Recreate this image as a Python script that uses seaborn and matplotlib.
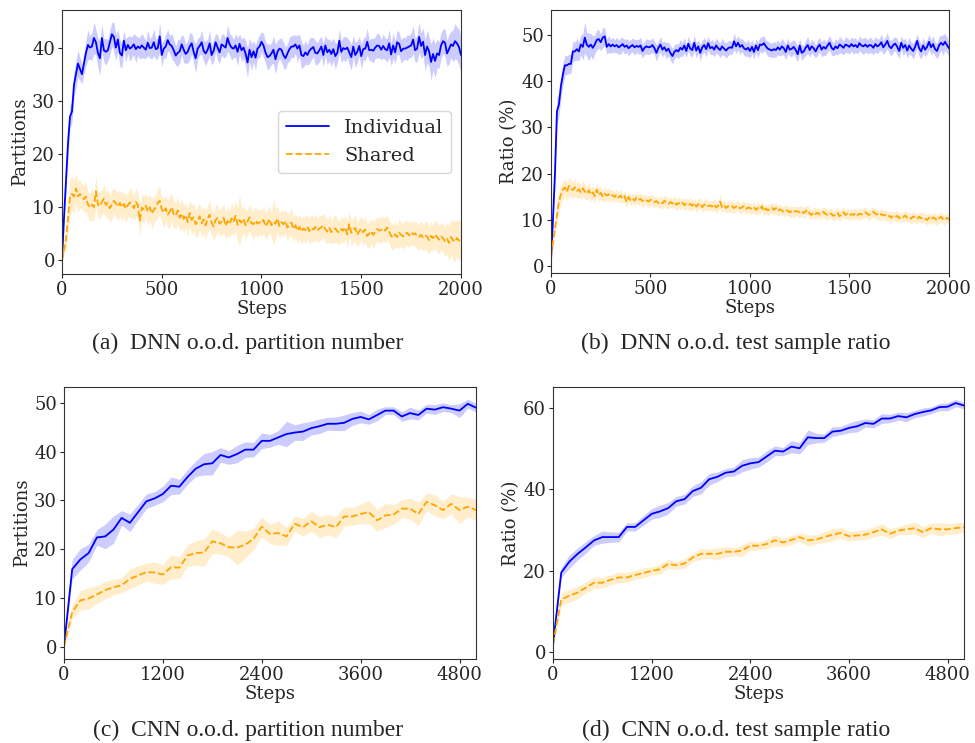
import numpy as np
import matplotlib
matplotlib.use('Agg')
import matplotlib.pyplot as plt
import seaborn as sns

# ---- DNN runs: one value every 10 steps, 0..2000 ----
dnn_steps = list(range(0, 2001, 10))

dnn_part_ind = [
    0, 8, 15, 22, 27, 28, 33, 35, 37, 36, 35,
    37, 39, 40.5, 40, 40.2, 41.8, 41, 39, 38, 41.8, 39.5, 39.2, 39.5, 41, 42.5, 42, 40, 41.5, 39, 38.5,
    41.3, 39.5, 40.5, 39.8, 40.1, 40.6, 39.7, 40.2, 39.9, 40.4,
    40.0, 39.6, 40.9, 39.9, 40.0, 41.0, 39.7, 39.9, 42.1, 38.6,
    39.8, 40.2, 41.4, 40.6, 40.3, 39.5, 38.5, 39.0, 39.3, 40.6,
    39.6, 38.8, 39.2, 40.2, 40.8, 39.2, 38.0, 39.8, 40.3, 41.0,
    39.4, 38.9, 39.6, 40.8, 38.6, 39.4, 41.0, 40.0, 39.1, 40.6,
    40.3, 40.0, 41.8, 40.6, 40.0, 39.8, 40.4, 39.2, 40.7, 39.5,
    40.0, 38.9, 37.2, 39.6, 38.2, 39.3, 38.1, 39.8, 40.2, 41.1,
    40.4, 39.1, 38.2, 38.4, 38.9, 39.6, 37.8, 39.2, 39.8, 39.6,
    38.6, 38.0, 38.9, 39.7, 40.2, 40.2, 40.6, 39.8, 40.4, 38.6,
    38.4, 39.1, 38.6, 39.4, 39.8, 40.1, 39.0, 38.9, 39.5, 40.2,
    38.6, 40.4, 39.1, 39.6, 38.8, 39.7, 38.4, 39.0, 41.3, 39.2,
    39.9, 39.7, 40.0, 39.1, 38.2, 40.2, 38.6, 39.2, 40.3, 38.4,
    39.7, 39.8, 41.1, 39.5, 39.6, 39.4, 40.0, 40.4, 40.3, 39.6,
    40.3, 39.7, 39.5, 40.8, 38.7, 40.4, 39.1, 41.0, 40.7, 39.3,
    39.8, 39.8, 40.0, 40.2, 40.4, 41.5, 39.5, 39.8, 42.0, 40.3,
    41.1, 38.6, 40.2, 39.3, 37.3, 38.8, 37.5, 38.9, 38.6, 40.4,
    41.2, 40.9, 38.9, 39.7, 40.6, 40.3, 41.2, 40.8, 40.1, 38.6,
]
dnn_part_ind_sd = [
    0, 1.0, 2.0, 2.5, 2.2, 2.0, 2.4, 2.6, 2.5, 2.2, 1.8,
    2.0, 2.4, 2.8, 2.2, 2.6, 3.0, 2.4, 2.8, 3.2, 2.6, 2.2, 2.5, 2.0, 2.4, 2.2, 2.8, 2.4, 2.0, 2.6, 2.3,
    1.8, 2.2, 1.6, 2.4, 1.9, 2.0, 2.6, 1.7, 2.1, 2.3,
    2.0, 1.6, 2.4, 1.8, 2.2, 2.5, 1.9, 2.0, 2.6, 2.2,
    1.7, 2.3, 2.0, 1.6, 2.4, 2.1, 1.8, 2.5, 2.2, 1.9,
    2.4, 1.8, 2.1, 2.6, 1.9, 2.2, 2.7, 2.0, 1.7, 2.3,
    1.9, 2.3, 2.0, 2.5, 1.8, 2.2, 1.6, 2.4, 2.1, 2.0,
    2.2, 1.8, 2.5, 2.0, 2.3, 1.7, 2.2, 2.6, 1.9, 2.1,
    2.0, 2.4, 2.8, 2.2, 2.5, 2.0, 2.3, 1.8, 2.2, 1.9,
    2.3, 2.0, 2.5, 2.2, 2.0, 2.6, 2.8, 2.1, 1.9, 2.2,
    2.4, 2.1, 1.8, 2.3, 2.0, 2.2, 1.7, 2.5, 2.1, 2.6,
    2.0, 2.2, 1.9, 2.4, 2.1, 1.8, 2.3, 2.0, 2.2, 1.9,
    2.2, 1.9, 2.4, 2.0, 2.3, 2.1, 2.5, 1.8, 2.2, 2.0,
    2.1, 2.4, 1.9, 2.2, 2.5, 2.0, 2.3, 2.1, 1.8, 2.4,
    2.0, 2.2, 2.5, 1.9, 2.1, 2.3, 2.0, 2.4, 2.2, 1.9,
    2.3, 2.0, 2.2, 2.6, 2.1, 2.4, 2.0, 2.3, 2.1, 2.2,
    2.2, 2.0, 2.4, 2.1, 2.3, 2.6, 2.2, 2.5, 2.8, 2.4,
    2.6, 2.9, 3.1, 2.8, 3.4, 3.0, 3.2, 2.7, 2.5, 2.4,
    2.3, 2.6, 2.4, 2.8, 2.5, 3.0, 3.3, 3.1, 3.4, 3.2,
]
dnn_part_sh = [
    0, 2, 4, 8, 12, 12.5, 12, 13.5, 12, 12.5, 12,
    11.5, 12, 10.5, 10, 10.5, 10, 13, 10.5, 10.2, 11, 11.6, 10.4, 10.8, 9.8, 10.5, 11.2, 10.7, 10.1, 10.8, 10.0,
    10.6, 9.7, 10.4, 10.9, 10.5, 9.8, 11.0, 10.4, 7.5, 9.9,
    9.6, 10.3, 9.2, 10.0, 8.8, 9.5, 9.9, 10.8, 11.2, 9.6,
    9.0, 9.8, 8.6, 9.2, 10.0, 8.7, 8.4, 9.4, 8.0, 8.8,
    7.8, 8.5, 7.2, 8.9, 7.6, 8.1, 6.8, 7.4, 8.3, 7.0,
    7.7, 6.6, 7.9, 8.6, 7.1, 6.4, 7.6, 8.0, 6.9, 7.3,
    8.0, 6.5, 7.4, 6.8, 7.9, 7.2, 8.4, 6.7, 7.6, 7.1,
    7.8, 6.6, 7.3, 8.1, 7.0, 6.8, 7.5, 6.9, 7.2, 7.0,
    7.6, 6.4, 7.0, 7.8, 6.6, 7.3, 6.9, 7.9, 6.5, 7.2,
    6.8, 7.4, 6.2, 6.9, 7.1, 5.9, 6.6, 5.6, 6.3, 5.4,
    6.0, 5.7, 6.4, 5.5, 6.1, 5.8, 6.3, 5.6, 6.0, 6.2,
    6.6, 5.9, 5.4, 6.1, 5.3, 5.8, 6.0, 5.5, 5.2, 5.9,
    5.6, 6.2, 4.9, 6.8, 5.2, 5.7, 6.1, 4.8, 5.5, 6.0,
    5.3, 5.8, 4.6, 5.0, 5.5, 4.8, 5.4, 5.9, 5.6, 5.7,
    6.0, 5.6, 6.2, 5.4, 4.6, 4.3, 4.9, 4.4, 5.2, 4.8,
    4.5, 5.0, 5.2, 4.7, 5.3, 4.9, 5.1, 4.6, 4.4, 4.8,
    4.3, 4.7, 4.5, 3.8, 4.6, 4.2, 4.9, 4.4, 3.9, 4.5,
    4.2, 3.6, 4.1, 3.3, 4.4, 3.8, 3.5, 4.2, 3.7, 3.9,
]
dnn_part_sh_sd = [
    0, 1.0, 2.0, 3.0, 3.5, 3.2, 3.0, 2.8, 3.0, 2.6, 2.4,
    2.5, 2.8, 2.4, 2.6, 3.0, 2.5, 2.8, 2.4, 2.6, 2.3, 2.7, 2.4, 2.6, 2.5, 2.8, 2.3, 2.5, 2.7, 2.4, 2.6,
    2.4, 2.6, 2.2, 2.8, 2.5, 2.3, 2.7, 2.4, 3.0, 2.6,
    2.5, 2.2, 2.7, 2.4, 2.9, 2.5, 2.3, 2.8, 2.6, 2.4,
    2.8, 2.4, 2.6, 3.0, 2.5, 2.7, 2.3, 2.6, 2.4, 2.8,
    2.5, 2.3, 2.7, 2.4, 2.9, 2.6, 2.4, 2.8, 2.5, 2.6,
    2.4, 2.8, 2.5, 2.7, 2.3, 2.6, 2.9, 2.5, 2.4, 2.7,
    2.6, 2.4, 2.7, 2.5, 2.9, 2.6, 2.8, 3.0, 4.8, 2.6,
    2.5, 2.7, 2.4, 2.6, 2.3, 2.8, 2.6, 2.6, 2.4, 2.5,
    2.6, 2.4, 2.7, 2.5, 2.3, 4.3, 2.8, 2.4, 2.5, 2.3,
    2.4, 2.2, 2.5, 2.3, 2.6, 2.4, 2.2, 2.5, 2.3, 2.4,
    2.3, 2.5, 2.2, 2.4, 2.6, 2.3, 2.5, 2.2, 2.4, 2.3,
    2.2, 2.4, 2.3, 2.5, 2.2, 2.4, 2.6, 2.3, 2.2, 2.4,
    2.3, 2.2, 2.5, 2.3, 2.4, 2.2, 2.5, 2.3, 2.4, 2.2,
    2.4, 2.3, 2.2, 2.5, 2.3, 2.6, 2.2, 2.4, 2.3, 2.5,
    2.2, 2.4, 2.3, 2.2, 2.5, 2.3, 2.4, 2.2, 2.6, 2.3,
    2.3, 2.5, 2.2, 2.4, 2.3, 2.2, 2.4, 2.5, 2.3, 2.6,
    2.4, 2.6, 2.8, 2.5, 2.7, 2.4, 2.6, 2.9, 2.7, 2.5,
    2.6, 2.8, 3.0, 3.2, 3.4, 3.6, 3.8, 3.5, 3.7, 3.6,
]

dnn_ratio_ind = [
    1, 10, 20, 33.5, 35, 39, 41.5, 43.5, 43.5, 43.8, 43.8,
    46.5, 46.5, 47, 46.5, 48, 47.5, 49.5, 48, 47.5, 48, 47.3, 48, 49, 49.2, 48.5, 49.5, 49.8, 47.5, 48.1, 47.6,
    48.0, 47.6, 47.9, 47.4, 47.7, 48.1, 47.5, 47.8, 47.2, 47.6,
    47.9, 47.4, 47.7, 47.5, 47.8, 46.6, 47.3, 47.6, 47.4, 47.5,
    47.9, 47.2, 46.2, 47.3, 48.0, 46.9, 47.4, 46.6, 47.1, 46.2,
    45.5, 46.4, 46.8, 46.5, 47.3, 46.9, 47.8, 46.6, 48.2, 47.1,
    46.8, 48.4, 46.7, 47.6, 46.2, 47.4, 47.9, 47.0, 48.3, 47.2,
    47.5, 46.9, 47.8, 47.2, 46.8, 47.6, 47.1, 46.7, 47.2, 47.4,
    47.3, 48.7, 47.6, 48.4, 47.5, 47.9, 47.2, 46.9, 47.3, 46.6,
    47.5, 46.4, 47.8, 46.8, 48.0, 47.9, 48.3, 47.6, 47.1, 46.9,
    46.7, 47.0, 46.8, 47.4, 46.9, 47.6, 47.2, 46.4, 47.8, 46.9,
    47.1, 47.5, 46.8, 45.9, 47.8, 46.2, 46.5, 47.3, 47.9, 46.8,
    47.6, 47.2, 46.5, 47.4, 48.0, 46.9, 47.5, 47.1, 47.8, 48.4,
    47.3, 46.9, 47.6, 47.2, 48.0, 47.7, 47.3, 48.0, 47.8, 47.5,
    48.1, 47.6, 47.9, 47.4, 48.3, 47.8, 47.6, 48.0, 47.5, 47.9,
    47.8, 47.3, 48.1, 47.6, 47.9, 48.5, 47.4, 48.0, 48.8, 47.6,
    47.2, 47.9, 48.2, 47.5, 46.6, 48.4, 47.3, 47.9, 46.7, 47.8,
    47.1, 46.6, 47.5, 48.8, 47.2, 46.5, 47.8, 46.9, 47.5, 48.6,
    47.4, 48.1, 47.0, 46.6, 47.8, 48.4, 47.9, 48.6, 47.9, 47.2,
]
dnn_ratio_ind_sd = [
    0, 1.5, 2.5, 3.0, 2.5, 2.5, 2.5, 2.2, 2.0, 2.2, 2.0,
    2.2, 2.0, 2.4, 2.0, 2.2, 2.8, 3.4, 2.6, 3.0, 2.4, 2.6, 2.0, 2.2, 2.0, 1.8, 2.2, 1.8, 1.6, 1.8, 1.5,
    1.6, 1.4, 1.7, 1.5, 1.8, 1.4, 1.6, 1.5, 1.7, 1.4,
    1.5, 1.7, 1.4, 1.6, 1.8, 1.5, 1.4, 1.7, 1.6, 1.5,
    1.6, 1.4, 1.8, 1.5, 1.7, 1.6, 1.4, 1.8, 1.5, 1.6,
    1.7, 1.5, 1.4, 1.6, 1.8, 1.5, 1.7, 1.4, 1.6, 1.5,
    1.5, 1.7, 1.6, 1.4, 1.8, 1.5, 1.6, 1.7, 1.5, 1.4,
    1.6, 1.5, 1.7, 1.4, 1.6, 1.8, 1.5, 1.7, 1.6, 1.5,
    1.4, 1.8, 1.6, 1.5, 1.7, 1.4, 1.6, 1.5, 1.8, 1.6,
    1.5, 1.6, 1.4, 1.7, 1.5, 1.8, 1.6, 1.4, 1.7, 1.5,
    1.6, 1.7, 1.5, 1.6, 1.4, 1.8, 1.5, 1.7, 1.6, 1.4,
    1.7, 1.5, 1.8, 1.6, 1.5, 1.7, 1.4, 1.6, 1.8, 1.5,
    1.5, 1.6, 1.4, 1.7, 1.5, 1.6, 1.8, 1.5, 1.4, 1.6,
    1.6, 1.4, 1.7, 1.5, 1.8, 1.6, 1.5, 1.7, 1.6, 1.5,
    1.5, 1.7, 1.6, 1.4, 1.6, 1.5, 1.8, 1.6, 1.5, 1.7,
    1.6, 1.5, 1.7, 1.6, 1.4, 1.8, 1.5, 1.6, 1.7, 1.5,
    1.7, 1.6, 1.5, 1.8, 1.6, 1.4, 1.7, 1.5, 1.6, 1.8,
    1.5, 1.7, 1.6, 1.5, 1.8, 1.6, 1.7, 1.5, 1.6, 1.7,
    1.6, 1.8, 1.5, 1.7, 1.9, 1.6, 2.2, 1.8, 1.7, 1.6,
]
dnn_ratio_sh = [
    2, 5, 8, 11, 14, 15.5, 16.5, 17.0, 16.0, 17.3, 16.7,
    16.4, 17.0, 16.2, 16.6, 15.9, 16.8, 16.1, 15.6, 16.4, 15.4, 15.9, 15.1, 16.5, 15.3, 15.8, 15.0, 15.6, 15.2, 15.5, 15.0,
    15.3, 14.9, 15.4, 14.8, 15.2, 14.6, 15.1, 13.8, 14.9, 14.2,
    14.6, 14.1, 14.8, 14.3, 14.5, 14.0, 14.4, 14.2, 13.9, 14.3,
    14.1, 13.8, 14.0, 13.6, 13.9, 13.5, 14.1, 13.7, 13.4, 13.8,
    13.5, 13.9, 13.2, 13.6, 13.3, 13.7, 13.1, 13.5, 13.2, 13.4,
    13.0, 13.6, 12.8, 13.3, 13.5, 12.7, 13.2, 13.4, 12.9, 13.1,
    12.8, 13.3, 12.6, 13.0, 13.9, 12.7, 13.1, 12.5, 12.9, 12.7,
    12.9, 12.5, 12.8, 13.0, 12.4, 12.7, 12.9, 12.3, 12.6, 12.5,
    12.3, 12.7, 12.1, 12.5, 12.2, 12.9, 11.8, 12.4, 12.0, 12.3,
    12.6, 12.1, 12.5, 11.9, 12.2, 12.0, 11.7, 12.1, 11.9, 11.6,
    11.8, 11.5, 11.9, 11.7, 11.6, 11.9, 11.4, 11.8, 12.1, 11.3,
    11.0, 11.6, 11.2, 11.5, 11.1, 11.4, 11.7, 11.2, 11.0, 11.4,
    11.2, 10.8, 11.1, 11.5, 10.7, 11.3, 11.6, 11.0, 11.3, 10.9,
    11.2, 11.0, 11.4, 10.9, 11.3, 11.1, 11.5, 11.6, 11.2, 11.0,
    11.4, 11.7, 11.3, 11.1, 10.8, 11.2, 10.9, 11.0, 10.6, 10.8,
    10.4, 10.9, 10.6, 10.8, 10.3, 10.7, 10.5, 10.9, 10.4, 10.6,
    10.2, 10.7, 10.4, 10.1, 10.6, 10.3, 10.5, 10.2, 9.9, 10.4,
    10.0, 10.5, 10.2, 9.8, 10.3, 10.6, 10.1, 9.9, 10.4, 10.0,
]
dnn_ratio_sh_sd = [
    0, 1.0, 1.5, 2.0, 2.2, 2.0, 2.1, 1.8, 2.0, 1.9, 1.8,
    1.7, 1.9, 1.6, 1.8, 1.5, 1.7, 1.6, 1.4, 1.6, 1.5, 1.4, 1.6, 1.3, 1.5, 1.4, 1.3, 1.5, 1.2, 1.4, 1.3,
    1.2, 1.0, 1.3, 1.1, 1.4, 1.0, 1.2, 1.3, 1.1, 1.2,
    1.1, 1.3, 1.0, 1.2, 1.1, 1.4, 1.0, 1.2, 1.3, 1.1,
    1.3, 1.1, 1.2, 1.0, 1.3, 1.2, 1.1, 1.4, 1.0, 1.2,
    1.0, 1.2, 1.3, 1.1, 1.2, 1.0, 1.3, 1.1, 1.2, 1.4,
    1.2, 1.0, 1.1, 1.3, 1.0, 1.2, 1.1, 1.3, 1.2, 1.0,
    1.1, 1.3, 1.2, 1.0, 1.5, 1.1, 1.2, 1.0, 1.3, 1.1,
    1.3, 1.1, 1.0, 1.2, 1.1, 1.3, 1.0, 1.2, 1.1, 1.2,
    1.0, 1.2, 1.1, 1.3, 1.0, 1.2, 1.1, 1.0, 1.3, 1.1,
    1.2, 1.0, 1.3, 1.1, 1.2, 1.0, 1.1, 1.2, 1.0, 1.3,
    1.1, 1.2, 1.0, 1.1, 1.3, 1.0, 1.2, 1.1, 1.0, 1.2,
    1.0, 1.1, 1.3, 1.0, 1.2, 1.1, 1.0, 1.2, 1.1, 1.0,
    1.2, 1.0, 1.1, 1.2, 1.0, 1.3, 1.1, 1.0, 1.2, 1.1,
    1.1, 1.2, 1.0, 1.1, 1.3, 1.0, 1.2, 1.1, 1.0, 1.2,
    1.0, 1.1, 1.2, 1.0, 1.1, 1.3, 1.0, 1.2, 1.1, 1.0,
    1.2, 1.0, 1.1, 1.2, 1.0, 1.1, 1.0, 1.2, 1.1, 1.0,
    1.1, 1.2, 1.0, 1.1, 1.0, 1.2, 1.1, 1.0, 1.2, 1.1,
    1.0, 1.1, 1.2, 1.0, 1.1, 1.0, 1.2, 1.1, 1.0, 1.1,
]

# ---- CNN runs: one value every 100 steps, 0..5000 ----
cnn_steps = list(range(0, 5001, 100))

cnn_part_ind = [0, 15.9, 17.9, 19.2, 22.4, 22.6, 24.0, 26.4, 25.4, 27.6,
                29.8, 30.4, 31.3, 33.0, 32.8, 34.8, 36.5, 37.4, 37.6, 39.3,
                38.8, 39.5, 40.4, 40.4, 42.2, 42.2, 42.9, 43.6, 43.9, 44.1,
                44.8, 45.2, 45.7, 45.7, 45.9, 46.7, 47.1, 46.6, 47.5, 48.4,
                48.4, 47.2, 47.9, 47.5, 48.8, 48.6, 49.1, 48.8, 48.4, 49.8, 49.0]
cnn_part_ind_sd = [0, 2.0, 2.2, 1.8, 1.6, 2.5, 2.8, 1.5, 1.8, 1.6,
                   1.5, 1.4, 1.6, 1.8, 1.5, 1.5, 1.6, 2.2, 2.4, 1.5,
                   1.4, 1.8, 1.6, 1.5, 1.6, 1.3, 1.4, 2.6, 1.6, 1.8,
                   1.4, 1.5, 1.3, 1.4, 1.6, 1.3, 1.2, 1.0, 1.2, 0.8,
                   0.8, 1.0, 1.2, 1.0, 0.9, 1.0, 0.9, 0.8, 1.4, 0.9, 0.9]
cnn_part_sh = [0, 7.1, 9.5, 9.9, 10.7, 11.6, 12.2, 12.6, 13.9, 14.6,
               15.3, 15.2, 14.8, 16.3, 16.2, 18.7, 19.2, 19.3, 21.6, 21.2,
               20.4, 20.3, 20.9, 22.1, 24.6, 23.1, 23.3, 22.6, 25.2, 24.5,
               25.7, 24.5, 25.0, 24.5, 26.7, 26.7, 27.2, 27.6, 25.9, 26.9,
               27.1, 28.3, 28.3, 27.2, 29.7, 29.0, 28.0, 29.3, 28.0, 28.7, 28.0]
cnn_part_sh_sd = [0, 1.5, 2.0, 2.2, 1.8, 1.8, 1.6, 1.5, 2.0, 2.0,
                  1.8, 2.2, 2.0, 2.5, 2.2, 2.2, 2.5, 2.8, 2.5, 2.2,
                  2.0, 3.5, 2.8, 2.2, 2.0, 2.0, 2.5, 1.8, 1.6, 1.8,
                  2.0, 2.2, 2.0, 2.2, 2.0, 1.8, 2.0, 2.4, 2.2, 2.5,
                  2.0, 1.8, 2.2, 2.4, 1.8, 2.2, 1.8, 2.0, 2.8, 2.0, 2.2]

cnn_ratio_ind = [1.9, 19.6, 22.3, 24.2, 25.8, 27.5, 28.3, 28.3, 28.3, 30.8,
                 30.8, 32.4, 34.0, 34.6, 35.4, 37.1, 37.6, 39.6, 40.4, 42.5,
                 43.1, 44.1, 44.4, 45.8, 46.4, 46.7, 48.1, 49.5, 49.3, 50.5,
                 50.1, 52.8, 52.6, 52.6, 54.2, 54.4, 55.1, 55.5, 56.3, 56.1,
                 57.4, 57.4, 58.0, 57.7, 58.5, 59.0, 59.4, 60.2, 60.3, 61.2, 60.6]
cnn_ratio_ind_sd = [0.5, 1.2, 1.6, 1.5, 1.4, 1.2, 1.5, 1.3, 1.2, 1.0,
                    1.0, 1.2, 1.3, 1.5, 1.4, 1.2, 1.2, 1.3, 1.5, 1.4,
                    1.2, 1.0, 1.1, 1.5, 1.4, 1.2, 1.4, 1.2, 1.0, 1.5,
                    1.4, 1.8, 1.2, 1.0, 1.2, 1.0, 1.2, 1.4, 1.0, 1.0,
                    1.2, 1.0, 1.0, 1.1, 0.9, 1.0, 0.8, 0.9, 1.0, 0.9, 0.8]
cnn_ratio_sh = [2.0, 13.0, 13.9, 14.7, 15.9, 17.1, 17.1, 17.8, 18.4, 18.4,
                19.0, 19.5, 20.0, 20.4, 21.7, 21.4, 21.8, 23.3, 24.2, 24.2,
                24.2, 24.7, 24.7, 25.0, 26.2, 26.2, 26.6, 27.5, 27.0, 27.6,
                28.3, 27.5, 27.7, 28.3, 28.9, 29.3, 28.5, 28.7, 28.9, 29.5,
                30.2, 29.1, 29.9, 30.2, 30.5, 29.5, 30.5, 30.2, 30.2, 30.5, 30.7]
cnn_ratio_sh_sd = [0.5, 1.5, 1.6, 1.5, 1.4, 1.4, 1.3, 1.2, 1.3, 1.2,
                   1.1, 1.2, 1.0, 1.2, 1.1, 1.0, 1.2, 1.0, 1.3, 1.1,
                   1.5, 1.2, 1.0, 1.4, 1.2, 1.0, 1.1, 1.3, 1.0, 1.2,
                   1.0, 1.4, 1.1, 1.3, 1.5, 1.3, 1.2, 1.1, 1.3, 1.2,
                   1.4, 1.2, 1.0, 1.3, 1.5, 1.4, 1.2, 1.6, 1.3, 1.4, 1.2]

captions = ['(a)  DNN o.o.d. partition number', '(b)  DNN o.o.d. test sample ratio',
            '(c)  CNN o.o.d. partition number', '(d)  CNN o.o.d. test sample ratio']
ylabels = ['Partitions', 'Ratio (%)', 'Partitions', 'Ratio (%)']
cnn_xticks = [0, 1200, 2400, 3600, 4800]
cnn_ratio_yticks = [0, 20, 40, 60]

sns.set_style('ticks')
plt.rcParams['font.family'] = ['DejaVu Serif']
plt.rcParams['font.size'] = 13

fig = plt.figure(figsize=(9.75, 7.43), dpi=100)
positions = [
    [0.0636, 0.6312, 0.4092, 0.3553],
    [0.5651, 0.6326, 0.4082, 0.3539],
    [0.0656, 0.1130, 0.4226, 0.3661],
    [0.5672, 0.1130, 0.4215, 0.3661],
]
panels = [
    (dnn_steps, dnn_part_ind, dnn_part_ind_sd, dnn_part_sh, dnn_part_sh_sd),
    (dnn_steps, dnn_ratio_ind, dnn_ratio_ind_sd, dnn_ratio_sh, dnn_ratio_sh_sd),
    (cnn_steps, cnn_part_ind, cnn_part_ind_sd, cnn_part_sh, cnn_part_sh_sd),
    (cnn_steps, cnn_ratio_ind, cnn_ratio_ind_sd, cnn_ratio_sh, cnn_ratio_sh_sd),
]

for i, (steps, ind, ind_sd, sh, sh_sd) in enumerate(panels):
    ax = fig.add_axes(positions[i])
    x = np.array(steps)
    for mean, sd, color, ls, name in [(ind, ind_sd, '#0000ff', '-', 'Individual'),
                                      (sh, sh_sd, 'orange', '--', 'Shared')]:
        mean = np.array(mean)
        sd = np.array(sd)
        ax.fill_between(x, mean - sd, mean + sd, color=color, alpha=0.2, lw=0)
        sns.lineplot(x=x, y=mean, color=color, linestyle=ls, linewidth=1.3,
                     label=name, ax=ax, legend=False)
    ax.set_xlim(0, x[-1])
    if i >= 2:
        ax.set_xticks(cnn_xticks)
    if i == 3:
        ax.set_yticks(cnn_ratio_yticks)
    ax.set_xlabel('Steps', fontsize=13, labelpad=1)
    ax.set_ylabel(ylabels[i], fontsize=13, labelpad=2)
    ax.tick_params(labelsize=13, length=3, pad=2)
    for sp in ax.spines.values():
        sp.set_color('#333333')
    if i == 0:
        ax.legend(loc='center right', fontsize=14, handlelength=2.2)

cap_pos = [(0.2544, 0.5384), (0.755, 0.5384), (0.2544, 0.0175), (0.755, 0.0175)]
for (cx, cy), cap in zip(cap_pos, captions):
    fig.text(cx, cy, cap, ha='center', va='center', fontsize=17,
             family=['Liberation Serif', 'DejaVu Serif'])

fig.savefig('out.png', dpi=100)
